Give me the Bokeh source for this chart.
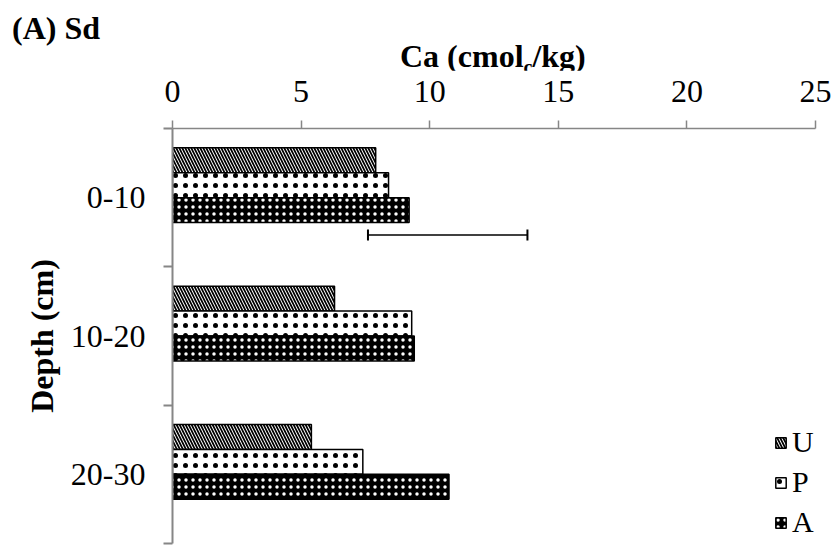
import numpy as np
from bokeh.plotting import figure
from bokeh.layouts import column
from bokeh.models import (ColumnDataSource, Range1d, FactorRange, LinearAxis, CategoricalAxis,
                          FixedTicker, Legend, LegendItem, Div)
from bokeh.transform import dodge
from bokeh.embed import file_html
from bokeh.resources import INLINE

# ---- data ----
depth = ["0-10", "10-20", "20-30"]
U = [7.9, 6.3, 5.4]
P = [8.4, 9.3, 7.4]
A = [9.2, 9.4, 10.75]
err_depth = ["0-10"]
err_low = [7.6]
err_high = [13.8]
x_ticks = [0, 5, 10, 15, 20, 25]
series = ["U", "P", "A"]
panel_title = "(A) Sd"
x_title_main, x_title_sub, x_title_end = "Ca (cmol", "c", "/kg)"

FONT = "Liberation Serif"
GRAY = "#868686"
FS = "32px"
HEAD = 70  # height of the heading strip above the figure

p = figure(width=833, height=547 - HEAD, x_range=Range1d(0, 25),
           y_range=FactorRange(*reversed(depth)),
           x_axis_location="above", y_axis_location=None,
           min_border_left=172, min_border_right=18, min_border_top=128 - HEAD, min_border_bottom=4,
           output_backend="svg", toolbar_location=None, outline_line_color=None)
p.grid.visible = False

# top x axis
xa = p.xaxis[0]
xa.ticker = FixedTicker(ticks=x_ticks)
xa.minor_tick_line_color = None
xa.major_tick_in = 0
xa.major_tick_out = 8
xa.major_tick_line_color = GRAY
xa.major_tick_line_width = 1.5
xa.axis_line_color = GRAY
xa.axis_line_width = 1.5
xa.major_label_text_font = FONT
xa.major_label_text_font_size = FS
xa.major_label_text_color = "black"
xa.major_label_standoff = 19

# left edge axis: tick marks at the category boundaries (synthetic coords 0..3)
edges = list(range(len(depth) + 1))
ea = LinearAxis(ticker=FixedTicker(ticks=edges),
                major_label_overrides={e: "" for e in edges},
                major_label_standoff=0, major_tick_in=0, major_tick_out=9,
                major_tick_line_color=GRAY, major_tick_line_width=2,
                minor_tick_line_color=None, axis_line_color=GRAY, axis_line_width=2)
p.add_layout(ea, "left")

ca = CategoricalAxis(axis_line_color=None, major_tick_line_color=None,
                     major_label_text_font=FONT, major_label_text_font_size=FS,
                     major_label_text_color="black", major_label_standoff=12,
                     axis_label="Depth (cm)", axis_label_text_font=FONT,
                     axis_label_text_font_size=FS, axis_label_text_font_style="bold",
                     axis_label_text_color="black", axis_label_standoff=8)
p.add_layout(ca, "left")

src = ColumnDataSource(dict(depth=depth, U=U, P=P, A=A))
h = 0.18
rU = p.hbar(y=dodge("depth", 0.27, range=p.y_range), right="U", height=h, source=src,
            fill_color="white", line_color="black", line_width=1.5,
            hatch_pattern="\\", hatch_color="black", hatch_scale=6, hatch_weight=1.7)
rP = p.hbar(y=dodge("depth", 0.09, range=p.y_range), right="P", height=h, source=src,
            fill_color="white", line_color="black", line_width=1.5,
            hatch_pattern=".", hatch_color="black", hatch_scale=10, hatch_weight=1.1)
rA = p.hbar(y=dodge("depth", -0.09, range=p.y_range), right="A", height=h, source=src,
            fill_color="black", line_color="black", line_width=1.5,
            hatch_pattern=".", hatch_color="white", hatch_scale=7, hatch_weight=4.2)

esrc = ColumnDataSource(dict(depth=err_depth, lo=err_low, hi=err_high))
ey = dodge("depth", -0.27, range=p.y_range)
p.segment(x0="lo", x1="hi", y0=ey, y1=ey, source=esrc, line_color="black", line_width=1.5)
p.scatter(x="lo", y=ey, source=esrc, marker="dash", angle=np.pi / 2, size=11,
          line_color="black", line_width=2)
p.scatter(x="hi", y=ey, source=esrc, marker="dash", angle=np.pi / 2, size=11,
          line_color="black", line_width=2)

legend = Legend(items=[LegendItem(label=s, renderers=[r]) for s, r in zip(series, [rU, rP, rA])],
                location=(602, 1), padding=0, margin=0, spacing=0,
                glyph_width=13, glyph_height=13, label_height=40, label_standoff=5,
                label_text_font=FONT, label_text_font_size="30px", label_text_color="black",
                border_line_color=None, background_fill_alpha=0)
p.add_layout(legend)

head_html = (
    f'<div style="position:relative;width:833px;height:{HEAD}px;font-family:\'{FONT}\';'
    'font-weight:bold;color:black;">'
    f'<span style="position:absolute;left:12px;top:12px;font-size:32px;line-height:32px;'
    f'white-space:nowrap;">{panel_title}</span>'
    '<span style="position:absolute;left:400px;top:42px;font-size:32px;line-height:28px;'
    f'white-space:nowrap;">{x_title_main}<span style="font-size:20px;position:relative;top:7px;">'
    f'{x_title_sub}</span>{x_title_end}</span>'
    '</div>'
)
head = Div(text=head_html, width=833, height=HEAD, margin=0)

layout = column(head, p, spacing=0)
open("out.html", "w").write(file_html(layout, INLINE))
